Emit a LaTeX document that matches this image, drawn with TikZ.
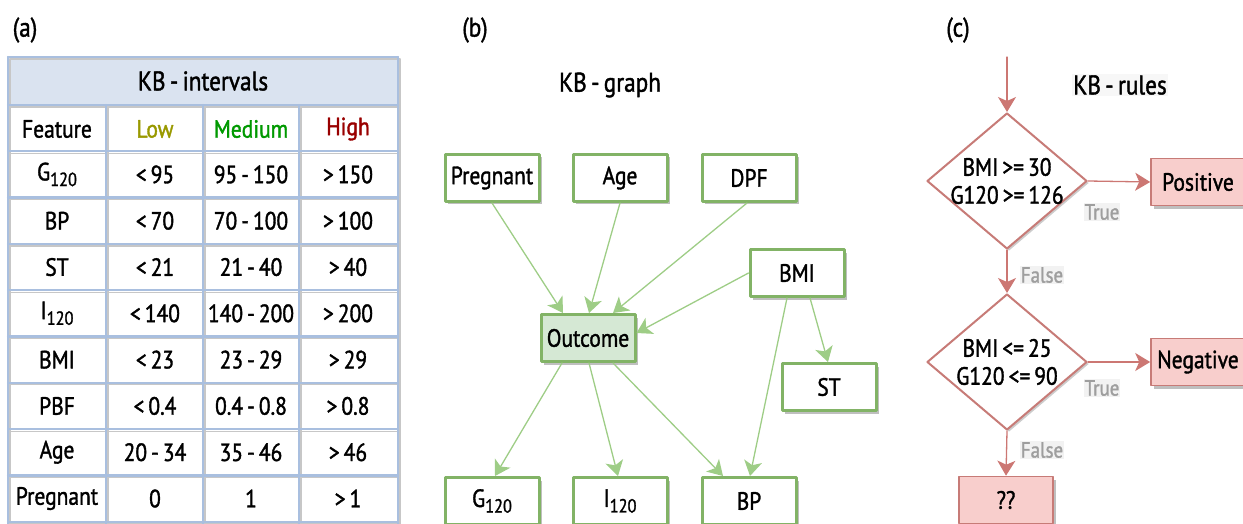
\documentclass[tikz,border=0pt]{standalone}
\usepackage{fontspec}
\setmainfont{PT Sans}[FakeStretch=0.86, FakeBold=1.4, WordSpace=0.7]
\usetikzlibrary{positioning,calc,arrows.meta,shapes.geometric,shadows}

\definecolor{gridblue}{HTML}{A9BFDF}
\definecolor{titleblue}{HTML}{DAE3F0}
\definecolor{gbord}{HTML}{82B366}
\definecolor{gfill}{HTML}{D5E8D4}
\definecolor{gedge}{HTML}{9ECD86}
\definecolor{rbord}{HTML}{C77B77}
\definecolor{rfill}{HTML}{F8CECC}
\definecolor{redge}{HTML}{CC7773}
\definecolor{lowc}{HTML}{999900}
\definecolor{medc}{HTML}{009900}
\definecolor{highc}{HTML}{990000}
\newcommand{\subn}[1]{\raisebox{-0.45ex}{\fontsize{19}{19}\selectfont#1}}

\begin{document}
\begin{tikzpicture}[x=1pt,y=-1pt, font=\fontsize{25}{28}\selectfont, line cap=round, line join=round]
	\useasboundingbox (0,0) rectangle (1243,524);
	
	% ===== styles =====
	\tikzset{
		panel/.style={font=\fontsize{27}{31}\selectfont},
		gbox/.style={draw=gbord, line width=3pt, fill=white, minimum width=94pt, minimum height=47pt, inner sep=0pt,
			drop shadow={shadow xshift=3pt, shadow yshift=-3pt, fill=black!25, opacity=1}},
		rbox/.style={gbox, draw=rbord, fill=rfill, line width=1.6pt},
		rdiam/.style={diamond, draw=rbord, line width=2pt, fill=white, inner sep=0pt,
			minimum width=160pt, minimum height=136pt,
			drop shadow={shadow xshift=2pt, shadow yshift=-2pt, fill=black!20, opacity=1}},
		rtext/.style={align=center, inner sep=0pt},
		garrow/.style={draw=gedge, line width=1.3pt, -{Stealth[length=15pt,width=18pt,inset=4pt]}},
		rarrow/.style={draw=redge, line width=1.3pt, -{Stealth[length=15pt,width=18pt,inset=4pt]}},
		tlabel/.style={text=black!38, fill=black!5, inner sep=1pt, font=\fontsize{22}{25}\selectfont}
	}
	
	% ===== panel labels =====
	\node[panel] (la) at (25,30) {(a)};
	\node[panel] (lb) at (475,30) {(b)};
	\node[panel] (lc) at (958,30) {(c)};
	
	% ===== (a) table =====
	\fill[titleblue] (8,57) rectangle (398,105);
	\begin{scope}[shift={(2,2)}, black!22, line width=1.2pt]
		\foreach \k in {0,...,9}{
			\draw (8,{105+46.3*\k}) -- (398,{105+46.3*\k});
		}
		\draw (8,57) -- (398,57);
		\foreach \x in {8,398}{
			\draw (\x,57) -- (\x,524);
		}
		\foreach \x in {106,203,299}{
			\draw (\x,105) -- (\x,524);
		}
	\end{scope}
	\begin{scope}[gridblue, line width=2.2pt]
		\foreach \k in {0,...,9}{
			\draw (8,{105+46.3*\k}) -- (398,{105+46.3*\k});
		}
		\draw (8,57) -- (398,57);
		\foreach \x in {8,398}{
			\draw (\x,57) -- (\x,524);
		}
		\foreach \x in {106,203,299}{
			\draw (\x,105) -- (\x,524);
		}
	\end{scope}
	
	\node[panel] (ttitle) at (203,81) {KB - intervals};
	\node (hf) at (57,129) {Feature};
	\node[text=lowc] (hl) at (155,129) {Low};
	\node[text=medc] (hm) at (251,129) {Medium};
	\node[text=highc] (hh) at (348,129) {High};
	
	\foreach \f/\l/\m/\h [count=\i] in {
		G\subn{120}/{< 95}/{95 - 150}/{> 150},
		BP/{< 70}/{70 - 100}/{> 100},
		ST/{< 21}/{21 - 40}/{> 40},
		I\subn{120}/{< 140}/{140 - 200}/{> 200},
		BMI/{< 23}/{23 - 29}/{> 29},
		PBF/{< 0.4}/{0.4 - 0.8}/{> 0.8},
		Age/{20 - 34}/{35 - 46}/{> 46},
		Pregnant/0/1/{> 1}}{
		\node (f\i) at (57,{105+46.3*(\i+0.5)}) {\f};
		\node (lo\i) at (155,{105+46.3*(\i+0.5)}) {\l};
		\node (me\i) at (251,{105+46.3*(\i+0.5)}) {\m};
		\node (hi\i) at (348,{105+46.3*(\i+0.5)}) {\h};
	}
	
	% ===== (b) graph =====
	\node[panel] (gtitle) at (610,85) {KB - graph};
	
	\node[gbox] (pregnant) at (492,178) {Pregnant};
	\node[gbox] (age) at (620,178) {Age};
	\node[gbox] (dpf) at (749,178) {DPF};
	\node[gbox] (bmi) at (797,273) {BMI};
	\node[gbox, fill=gfill] (outcome) at (588,338) {Outcome};
	\node[gbox] (st) at (829,387) {ST};
	\node[gbox] (g120) at (492,501) {G\subn{120}};
	\node[gbox] (i120) at (620,501) {I\subn{120}};
	\node[gbox] (bp) at (749,501) {BP};
	
	\draw[garrow] (pregnant.south) -- ([xshift=-25pt]outcome.north);
	\draw[garrow] (age.south) -- ([xshift=1pt]outcome.north);
	\draw[garrow] ([xshift=-2pt]dpf.south) -- ([xshift=25pt]outcome.north);
	\draw[garrow] (bmi.west) -- ([yshift=5pt]outcome.east);
	\draw[garrow] ([xshift=13pt]bmi.south) -- ([xshift=-1pt]st.north);
	\draw[garrow] ([xshift=-10pt]bmi.south) -- ([xshift=1pt]bp.north);
	\draw[garrow] ([xshift=-26pt]outcome.south) -- ([xshift=3pt]g120.north);
	\draw[garrow] ([xshift=1pt]outcome.south) -- ([xshift=-2pt]i120.north);
	\draw[garrow] ([xshift=25pt]outcome.south) -- ([xshift=-26pt]bp.north);
	
	% ===== (c) rules =====
	\node[panel, fill=black!3, inner sep=1pt] (rtitle) at (1120,85) {KB - rules};
	
	\coordinate (entry) at (1007,57);
	\node[rdiam] (d1) at (1007,181) {};
	\node[rtext] (d1t) at (1007,181) {BMI >= 30\\G120 >= 126};
	\node[rdiam] (d2) at (1007,362) {};
	\node[rtext] (d2t) at (1007,362) {BMI <= 25\\G120 <= 90};
	\node[rbox] (pos) at (1198,182) {Positive};
	\node[rbox] (neg) at (1198,362) {Negative};
	\node[rbox] (unk) at (1006,500) {??};
	
	\draw[rarrow] (entry) -- (d1.north);
	\draw[rarrow] (d1.east) -- (pos.west);
	\draw[rarrow] (d1.south) -- (d2.north);
	\draw[rarrow] (d2.east) -- (neg.west);
	\draw[rarrow] (d2.south) -- (unk.north);
	
	\node[tlabel] (t1) at (1102,212) {True};
	\node[tlabel] (f1) at (1042,275) {False};
	\node[tlabel] (t2) at (1102,388) {True};
	\node[tlabel] (f2) at (1042,450) {False};
	
\end{tikzpicture}
\end{document}
